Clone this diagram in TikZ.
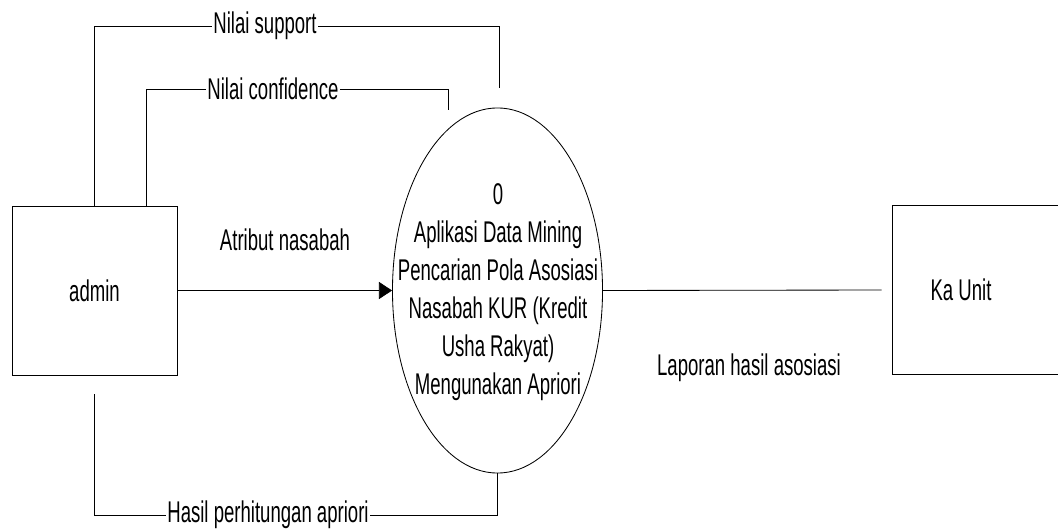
\documentclass[tikz,border=0pt]{standalone}
\usepackage{fontspec}
\setmainfont{Liberation Sans}[FakeStretch=0.62]
\usetikzlibrary{arrows.meta,positioning,shapes.geometric,calc}

\begin{document}
\begin{tikzpicture}[x=0.025cm, y=-0.025cm, line width=0.6pt,
  every node/.style={font=\fontsize{21.3}{27}\selectfont},
  ent/.style={draw, minimum width=4.125cm, minimum height=4.225cm},
  lbl/.style={inner xsep=1pt, inner ysep=0pt}]
\useasboundingbox (0,0) rectangle (1058,531);
% Entities
\node[ent] (admin) at (94.5,290.5) {admin};
\node[ent, minimum width=4.3cm] (unit) at (978,290) {};
\node (unitname) at (961,290) {Ka Unit};
% Process
\node[ellipse, draw, minimum width=5.25cm, minimum height=9.125cm] (proc) at (497.5,290.5) {};
\node[align=center] (proctext) at (498,292) {0\\Aplikasi Data Mining\\Pencarian Pola Asosiasi\\Nasabah KUR (Kredit\\Usha Rakyat)\\Mengunakan Apriori};
% Labels
\node[lbl] (supl) at (265,26) {Nilai support};
\node[lbl] (confl) at (273,89) {Nilai confidence};
\node[lbl] (atrl) at (285,240) {Atribut nasabah};
\node[lbl] (hasill) at (268,515) {Hasil perhitungan apriori};
\node[lbl] (lapl) at (749,368) {Laporan hasil asosiasi};
% Free ends
\coordinate (supend) at (499,88);
\coordinate (confin) at ($(admin.north east)+(-31,0)$);
\coordinate (confend) at (448,110);
\coordinate (hasilin) at ($(admin.south)+(0,19)$);
\coordinate (lapend) at ($(unit.west)+(-10,0)$);
% Flows
\draw (admin.north) |- (supl.west);
\draw (supl.east) -| (supend);
\draw (confin) |- (confl.west);
\draw (confl.east) -| (confend);
\draw[-{Triangle[length=0.33cm,width=0.43cm]}] (admin.east) -- (proc.west);
\draw (hasilin) |- (hasill.west);
\draw (hasill.east) -| (proc.south);
\draw (proc.east) -- (lapend);
\end{tikzpicture}
\end{document}
